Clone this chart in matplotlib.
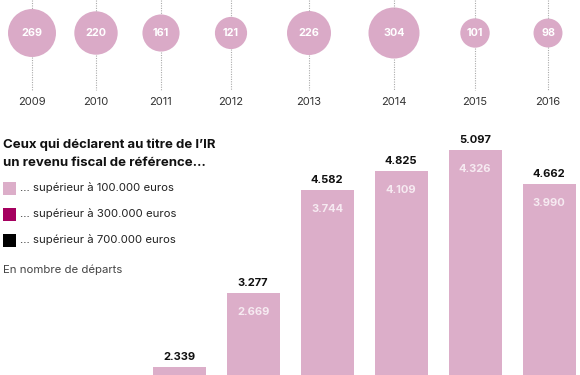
import matplotlib
matplotlib.use("Agg")
import matplotlib.pyplot as plt
from matplotlib.patches import Circle, Rectangle
import numpy as np

plt.rcParams['font.family'] = ['Inter', 'DejaVu Sans']

# ---- data ----
years = ['2009', '2010', '2011', '2012', '2013', '2014', '2015', '2016']
departures = [269, 220, 161, 121, 226, 304, 101, 98]

bar_years = ['2011', '2012', '2013', '2014', '2015', '2016']
over_100k = [2339, 3277, 4582, 4825, 5097, 4662]
over_100k_inner = [None, 2669, 3744, 4109, 4326, 3990]

legend_labels = ['… supérieur à 100.000 euros',
                 '… supérieur à 300.000 euros',
                 '… supérieur à 700.000 euros']
legend_colors = ['#dcaec9', '#a5005f', '#000000']

# layout (pixels)
bubble_x = [32, 96, 161, 231, 309, 394, 475, 548]
pink = '#dcaec9'

W, H = 580, 375
fig = plt.figure(figsize=(W / 100, H / 100), dpi=100)

# ---- top: bubbles ----
ax_top = fig.add_axes([0, 1 - 115 / H, 1, 115 / H])
ax_top.set_xlim(0, W)
ax_top.set_ylim(115, 0)
ax_top.axis('off')
k = 25.5 / np.sqrt(max(departures))
cy = 33
for x, v, yr in zip(bubble_x, departures, years):
    r = k * np.sqrt(v)
    ax_top.plot([x, x], [0, cy - r], ls=(0, (1, 1.2)), color='#aaaaaa', lw=0.8)
    ax_top.plot([x, x], [cy + r, 90], ls=(0, (1, 1.2)), color='#aaaaaa', lw=0.8)
    ax_top.add_patch(Circle((x, cy), r, color='#daaac7', lw=0))
    ax_top.text(x, cy, str(v), ha='center', va='center', color='white',
                fontsize=7.8, fontweight='bold')
    ax_top.text(x, 102, yr, ha='center', va='center', color='#333333', fontsize=8)

# ---- bars ----
spacing = 73.96
x0 = 179.2 - 2 * spacing
bar_top_px = 130
ax = fig.add_axes([0, 0, 1, (H - bar_top_px) / H])
ax.set_xlim(-x0 / spacing, (W - x0) / spacing)
px_per_unit = 0.0789
ymin = 2339 - (375 - 367.3) / px_per_unit
ymax = ymin + (H - bar_top_px) / px_per_unit
ax.set_ylim(ymin, ymax)
ax.axis('off')
pos = np.arange(len(bar_years)) + 2
ax.bar(pos, over_100k, width=53 / spacing, color=pink, linewidth=0)
for p, v, inner in zip(pos, over_100k, over_100k_inner):
    ax.text(p, v + 10 / px_per_unit, f'{v / 1000:.3f}', ha='center', va='center',
            fontsize=8, fontweight='bold', color='#111111')
    if inner is not None:
        ax.text(p, v - 19 / px_per_unit, f'{inner / 1000:.3f}', ha='center', va='center',
                fontsize=8, fontweight='bold', color='#f6eaf1')

# ---- title & legend ----
fig.text(3 / W, 1 - 145 / H, "Ceux qui déclarent au titre de l’IR", ha='left', va='center',
         fontsize=9.5, fontweight='bold', color='#111111')
fig.text(3 / W, 1 - 163 / H, "un revenu fiscal de référence…", ha='left', va='center',
         fontsize=9.5, fontweight='bold', color='#111111')
for i, (lab, col) in enumerate(zip(legend_labels, legend_colors)):
    yc = 188 + 26 * i
    fig.patches.append(Rectangle((3 / W, 1 - (yc + 6.5) / H), 13 / W, 13 / H,
                                 transform=fig.transFigure, color=col, lw=0))
    fig.text(20 / W, 1 - yc / H, lab, ha='left', va='center', fontsize=8.2, color='#222222')
fig.text(3 / W, 1 - 270 / H, "En nombre de départs", ha='left', va='center',
         fontsize=8.2, color='#444444')

fig.savefig('out.png', dpi=100)
